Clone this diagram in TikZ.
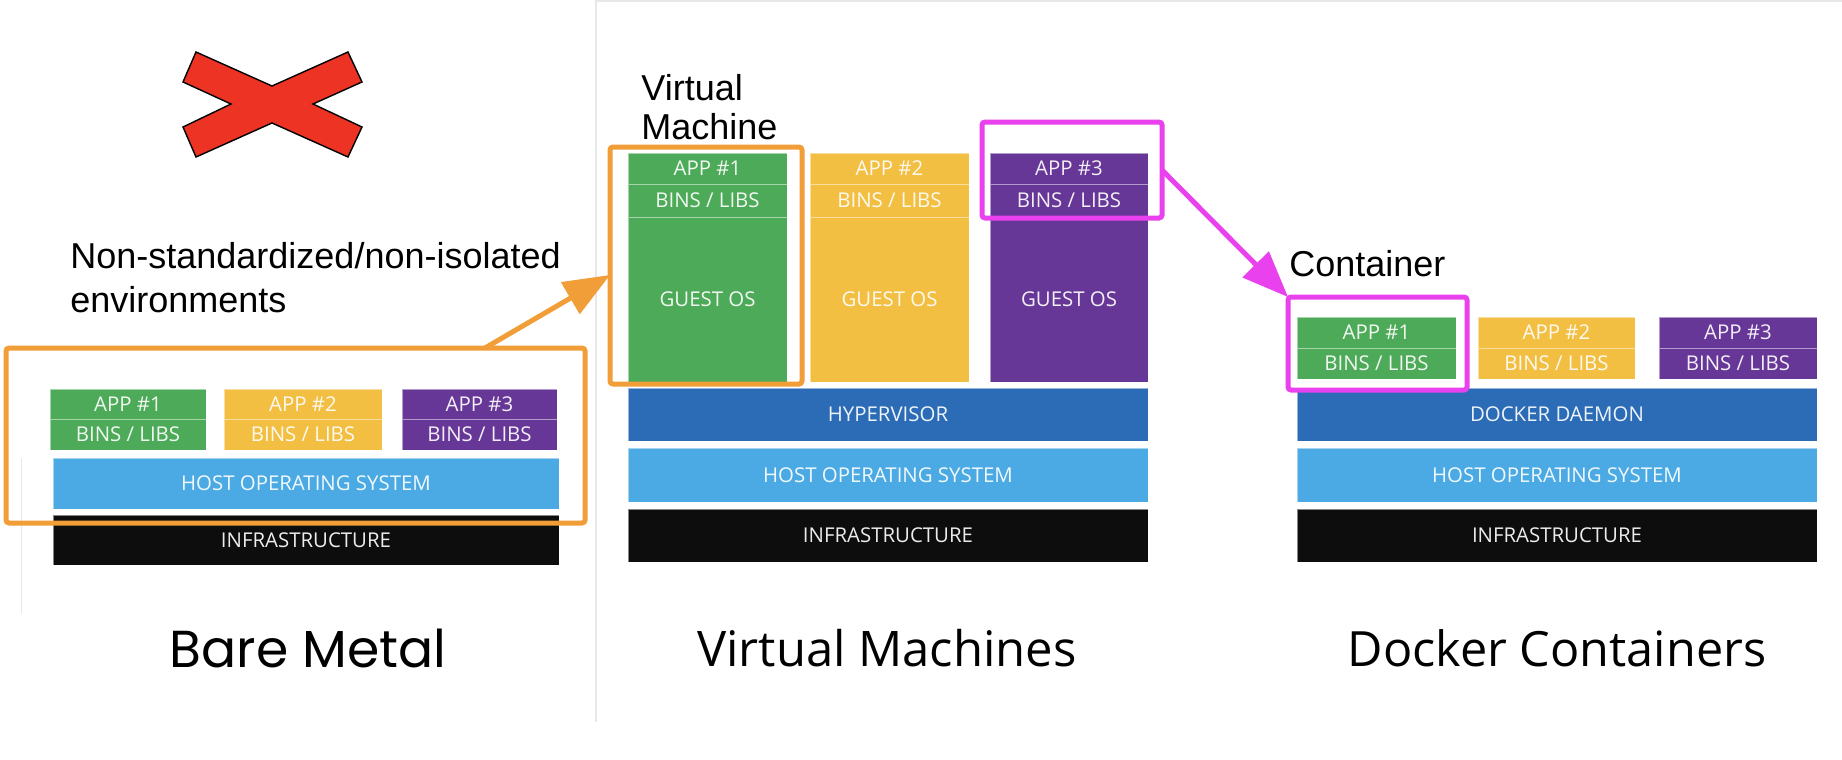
\documentclass[tikz,border=0pt]{standalone}
\usepackage{fontspec}
\usetikzlibrary{arrows.meta}
\newfontfamily\boxfont{Open Sans}
\newfontfamily\titlefont{Open Sans}
\newfontfamily\notefont{Liberation Sans}
\newfontfamily\barefont{Poppins}
\definecolor{appgreen}{RGB}{77, 170, 88}
\definecolor{appyellow}{RGB}{242, 191, 66}
\definecolor{apppurple}{RGB}{103, 55, 152}
\definecolor{hyperblue}{RGB}{44, 108, 183}
\definecolor{hostblue}{RGB}{75, 170, 228}
\definecolor{infrablack}{RGB}{13, 13, 13}
\definecolor{hlorange}{RGB}{242, 158, 56}
\definecolor{hlmagenta}{RGB}{234, 65, 238}
\definecolor{xred}{RGB}{236, 51, 36}
\definecolor{sepgray}{RGB}{232, 232, 232}
\tikzset{
  layer/.style={fill=#1, draw=white, draw opacity=0.5, line width=0.5pt, text=white, text opacity=0.92,
    font=\boxfont\fontsize{10.2}{12}\selectfont, inner sep=0pt, outer sep=0pt, anchor=north west},
  hlbox/.style={draw=#1, line width=2.5pt, rounded corners=1.5pt, inner sep=0pt, outer sep=0pt, anchor=north west},
  hlarrow/.style={draw=#1, fill=#1, line width=2.5pt, -{Triangle[length=23pt,width=18pt]}},
  note/.style={font=\notefont\fontsize{18}{22}\selectfont, align=left, inner sep=0pt, anchor=west},
  caption/.style={font=#1, inner sep=0pt},
}

\begin{document}
\begin{tikzpicture}[x=1pt, y=-1pt]
    \fill[white] (0,0) rectangle (921,380);
    \useasboundingbox (0,0) rectangle (921,380);

    % Frame lines
    \draw[sepgray, line width=0.6pt] (298,0) -- (298,361);
    \draw[sepgray, line width=0.6pt] (298,0.5) -- (921,0.5);
    \draw[sepgray, line width=0.5pt] (10.5,229) -- (10.5,306.5);

    % Bare metal
    \draw[fill=xred, line width=0.7pt] (98,26) -- (136,43) -- (174,26) -- (181,41) -- (156.5,52)
        -- (181,63.5) -- (174,78.5) -- (136,61.5) -- (98,78.5) -- (91.5,63.5) -- (115.5,52)
        -- (91.5,41) -- cycle;
    \node[note] (bmnote) at (35,139) {Non-standardized/non-isolated\\environments};

    \node[layer=appgreen, minimum width=78pt, minimum height=15pt] (bmapp1) at (25,194.5) {APP \#1};
    \node[layer=appgreen, minimum width=78pt, minimum height=15.5pt] (bmbins1) at (25,209.5) {BINS / LIBS};
    \node[layer=appyellow, minimum width=79pt, minimum height=15pt] (bmapp2) at (112,194.5) {APP \#2};
    \node[layer=appyellow, minimum width=79pt, minimum height=15.5pt] (bmbins2) at (112,209.5) {BINS / LIBS};
    \node[layer=apppurple, minimum width=77.5pt, minimum height=15pt] (bmapp3) at (201,194.5) {APP \#3};
    \node[layer=apppurple, minimum width=77.5pt, minimum height=15.5pt] (bmbins3) at (201,209.5) {BINS / LIBS};
    \node[layer=hostblue, minimum width=253pt, minimum height=25.5pt] (bmhost) at (26.5,229) {HOST OPERATING SYSTEM};
    \node[layer=infrablack, minimum width=253pt, minimum height=25pt] (bminfra) at (26.5,257.5) {INFRASTRUCTURE};
    \node[hlbox=hlorange, minimum width=289.5pt, minimum height=87.5pt] (bmbox) at (3,174) {};

    \node[caption=\barefont\fontsize{26}{30}\selectfont] (bmtitle) at (154,324) {Bare Metal};

    % Virtual machines
    \node[note, font=\notefont\fontsize{18}{19.5}\selectfont] (vmnote) at (320.5,53.7) {Virtual\\Machine};

    \node[layer=appgreen, minimum width=79.5pt, minimum height=15.5pt] (vmapp1) at (314,76.5) {APP \#1};
    \node[layer=appgreen, minimum width=79.5pt, minimum height=16.5pt] (vmbins1) at (314,92) {BINS / LIBS};
    \node[layer=appgreen, minimum width=79.5pt, minimum height=82.5pt] (vmguest1) at (314,108.5) {GUEST OS};
    \node[layer=appyellow, minimum width=79.5pt, minimum height=15.5pt] (vmapp2) at (405,76.5) {APP \#2};
    \node[layer=appyellow, minimum width=79.5pt, minimum height=16.5pt] (vmbins2) at (405,92) {BINS / LIBS};
    \node[layer=appyellow, minimum width=79.5pt, minimum height=82.5pt] (vmguest2) at (405,108.5) {GUEST OS};
    \node[layer=apppurple, minimum width=79pt, minimum height=15.5pt] (vmapp3) at (495,76.5) {APP \#3};
    \node[layer=apppurple, minimum width=79pt, minimum height=16.5pt] (vmbins3) at (495,92) {BINS / LIBS};
    \node[layer=apppurple, minimum width=79pt, minimum height=82.5pt] (vmguest3) at (495,108.5) {GUEST OS};
    \node[layer=hyperblue, minimum width=260pt, minimum height=26.5pt] (vmhyper) at (314,194) {HYPERVISOR};
    \node[layer=hostblue, minimum width=260pt, minimum height=27pt] (vmhost) at (314,224) {HOST OPERATING SYSTEM};
    \node[layer=infrablack, minimum width=260pt, minimum height=26.5pt] (vminfra) at (314,254.5) {INFRASTRUCTURE};
    \node[hlbox=hlorange, minimum width=96pt, minimum height=118.5pt] (vmbox) at (305,73.5) {};
    \node[hlbox=hlmagenta, minimum width=90pt, minimum height=48pt] (magbox) at (491,61) {};

    \node[caption=\titlefont\fontsize{24.5}{28}\selectfont] (vmtitle) at (443.5,324) {Virtual Machines};

    % Docker containers
    \node[note] (ctnote) at (644.5,132) {Container};

    \node[layer=appgreen, minimum width=79.5pt, minimum height=15.5pt] (ctapp1) at (648.5,158.5) {APP \#1};
    \node[layer=appgreen, minimum width=79.5pt, minimum height=15.5pt] (ctbins1) at (648.5,174) {BINS / LIBS};
    \node[layer=appyellow, minimum width=78.5pt, minimum height=15.5pt] (ctapp2) at (739,158.5) {APP \#2};
    \node[layer=appyellow, minimum width=78.5pt, minimum height=15.5pt] (ctbins2) at (739,174) {BINS / LIBS};
    \node[layer=apppurple, minimum width=79pt, minimum height=15.5pt] (ctapp3) at (829.5,158.5) {APP \#3};
    \node[layer=apppurple, minimum width=79pt, minimum height=15.5pt] (ctbins3) at (829.5,174) {BINS / LIBS};
    \node[layer=hyperblue, minimum width=260pt, minimum height=26.5pt] (ctdaemon) at (648.5,194) {DOCKER DAEMON};
    \node[layer=hostblue, minimum width=260pt, minimum height=27pt] (cthost) at (648.5,224) {HOST OPERATING SYSTEM};
    \node[layer=infrablack, minimum width=260pt, minimum height=26.5pt] (ctinfra) at (648.5,254.5) {INFRASTRUCTURE};
    \node[hlbox=hlmagenta, minimum width=89.5pt, minimum height=46.5pt] (ctbox) at (644,148.5) {};

    \node[caption=\titlefont\fontsize{24.3}{28}\selectfont] (cttitle) at (778.5,324) {Docker Containers};

    % Arrows
    \draw[hlarrow=hlorange] ([xshift=-50pt]bmbox.north east) -- ([yshift=-4.75pt]vmbox.west);
    \draw[hlarrow=hlmagenta] (magbox.east) -- (ctbox.north west);
\end{tikzpicture}
\end{document}
